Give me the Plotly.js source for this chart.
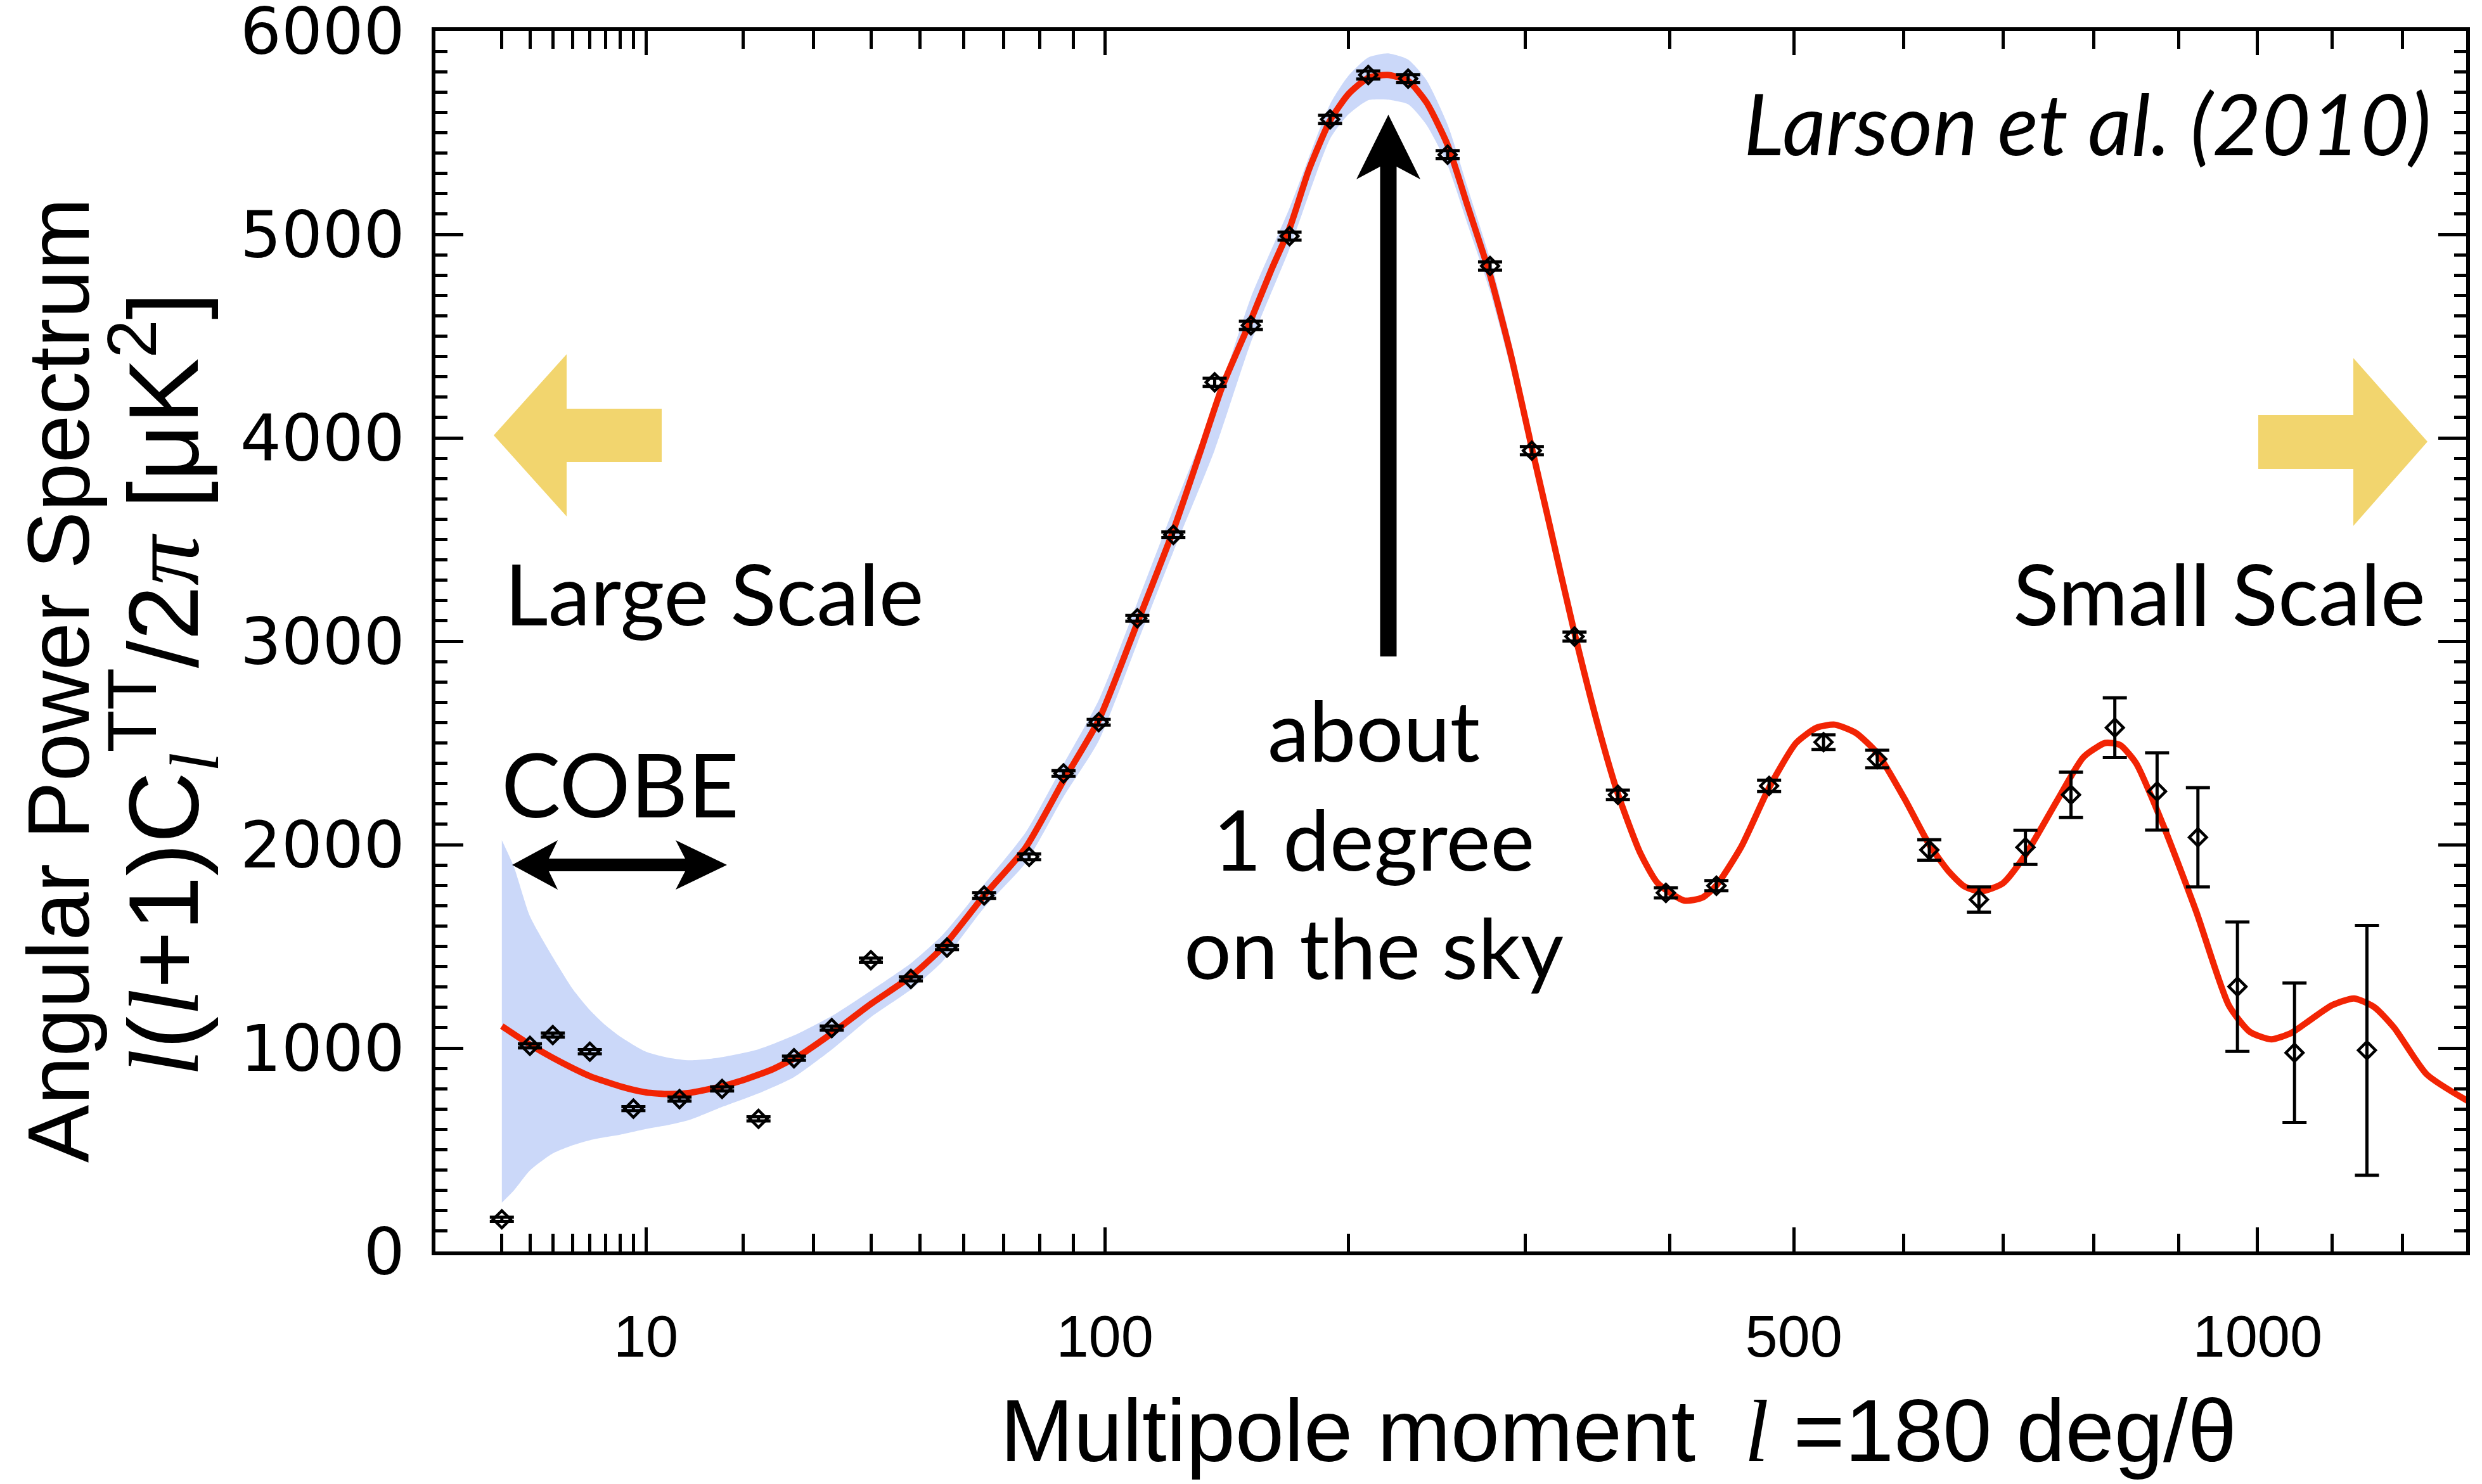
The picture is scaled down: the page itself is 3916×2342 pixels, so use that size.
<!DOCTYPE html>
<html>
<head>
<meta charset="utf-8">
<script src="https://cdn.plot.ly/plotly-3.0.1.min.js"></script>
<style>html,body{margin:0;padding:0;background:#fff}</style>
</head>
<body>
<div id="chart" style="width:3916px;height:2342px"></div>
<script>
// ---------------- data ----------------
// binned measured spectrum: multipole l, D_l = l(l+1)C_l/2pi [uK^2], 1-sigma error
const ell   = [2,3,4,6,9,13,17.5,22,27,33,40,48,56,65,77,87,98,111,124,140,155,172,191,210,231,253,278,304,332,362,397,436,479,526,575,625,675,724,774,824,874,924,974,1049,1149];
const dl    = [158,1011,1064,982,702,749,799,652,950,1098,1432,1340,1494,1750,1940,2350,2602,3113,3523,4273,4553,4992,5566,5784,5766,5392,4845,3937,3023,2245,1763,1798,2289,2504,2421,1974,1730,1987,2245,2575,2262,2036,1302,977,989];
const dlErr = [10,10,10,10,10,10,10,10,10,10,10,10,10,14,14,14,14,14,14,20,20,20,20,20,20,20,20,20,22,23,25,25,28,36,43,50,62,84,112,147,190,244,318,343,614];

// best-fit model curve
const thL = [2,3,4,5,6,8,10,12,14,17,20,24,28,33,40,48,55,65,76,87,98,111,124,134,143,155,164,172,181,191,200,210,220,231,241,253,265,278,291,304,314,332,349,362,378,391,411,425,436,456,479,502,520,536,555,575,601,625,644,660,677,700,724,759,788,813,830,849,881,922,963,990,1018,1045,1071,1100,1131,1160,1188,1236,1300];
const thD = [1108,1017,952,902,862,812,782,774,780,807,842,897,967,1072,1217,1352,1495,1750,1985,2315,2612,3090,3545,3920,4250,4580,4830,5030,5320,5560,5690,5770,5784,5755,5650,5440,5130,4800,4400,3950,3620,3040,2560,2250,1960,1810,1725,1740,1800,1990,2280,2500,2575,2590,2550,2450,2225,2000,1870,1795,1770,1810,1950,2220,2430,2500,2490,2400,2100,1670,1210,1080,1043,1075,1140,1210,1244,1200,1100,870,735];

// cosmic-variance band (upper / lower edges)
const bandL  = [2,2.4,3,4,5,6,7,8,10,12,14,17,22,27,33,40,48,55,65,76,87,98,111,124,140,155,172,191,200,210,220,231,241,253,265,278,291,304,320,340,362];
const bandHi = [2022,1891,1648,1447,1292,1187,1112,1057,982,952,940,952,994,1062,1157,1282,1417,1557,1805,2060,2395,2710,3190,3650,4160,4690,5130,5640,5780,5870,5890,5860,5760,5540,5220,4880,4470,4010,3450,2850,2262];
const bandLo = [240,300,398,482,522,547,562,574,602,622,647,702,777,857,992,1152,1287,1427,1690,1910,2235,2510,2990,3440,3940,4470,4930,5470,5590,5660,5663,5640,5540,5340,5040,4720,4330,3890,3370,2790,2240];

// axis definitions
const xMajor = [10,100,500,1000];
const xMajorText = ['10','100','500','1000'];
const xMinor = [2,3,4,5,6,7,8,9,20,30,40,50,60,70,80,90,200,300,400,600,700,800,900,1100,1200];
const yTicks = [0,1000,2000,3000,4000,5000,6000];
const lRange = [0.52,1295];
const yRange = [0,6000];
const lPow = 0.4;   // horizontal axis is linear in l^0.4

// ---------------- helpers ----------------
const toU = l => Math.pow(l, lPow);
const W = 3916, H = 2342, ML = 687, MR = 25, MT = 49, MB = 367;
const PW = W - ML - MR, PH = H - MT - MB;
const px = x => (x - ML) / PW;
const py = y => (H - MB - y) / PH;
const poly = pts => 'M' + pts.map(p => px(p[0]).toFixed(5) + ',' + py(p[1]).toFixed(5)).join('L') + 'Z';

const traces = [
  {x: bandL.map(toU), y: bandLo, mode: 'lines', line: {width: 0, shape: 'spline', smoothing: 0.6},
   hoverinfo: 'skip', showlegend: false},
  {x: bandL.map(toU), y: bandHi, mode: 'lines', line: {width: 0, shape: 'spline', smoothing: 0.6},
   fill: 'tonexty', fillcolor: '#CBD8F9', hoverinfo: 'skip', showlegend: false},
  {x: thL.map(toU), y: thD, mode: 'lines', line: {color: '#F22404', width: 10, shape: 'spline', smoothing: 0.6},
   showlegend: false},
  {x: ell.map(toU), y: dl, mode: 'markers',
   marker: {symbol: 'diamond-open', size: 21, color: '#000', line: {width: 4.5, color: '#000'}},
   error_y: {type: 'data', array: dlErr, visible: true, color: '#000', thickness: 5, width: 19},
   showlegend: false}
];

const serifL = '<span style="font-family:Liberation Serif"><i>l</i></span>';
const serifPi = '<span style="font-family:Liberation Serif"><i>π</i></span>';
const gill = 'Lato, Open Sans, sans-serif';

const annotations = [
  {text: '<i>Larson et al. (2010)</i>', x: px(3838), y: py(194), xanchor: 'right', yanchor: 'middle',
   font: {family: gill, size: 134, color: '#000'}},
  {text: 'Large Scale', x: px(794), y: py(936), xanchor: 'left', yanchor: 'middle',
   font: {family: gill, size: 134, color: '#000'}},
  {text: 'Small Scale', x: px(3829), y: py(936), xanchor: 'right', yanchor: 'middle',
   font: {family: gill, size: 134, color: '#000'}},
  {text: 'COBE', x: px(789), y: py(1236), xanchor: 'left', yanchor: 'middle',
   font: {family: gill, size: 140, color: '#000'}},
  {text: 'about<br>1 degree<br>on the sky', x: px(2167), y: py(1322), xanchor: 'center', yanchor: 'middle',
   align: 'center', font: {family: gill, size: 132, color: '#000'}},
  {text: 'Angular Power Spectrum', x: px(92), y: py(1074), xanchor: 'center', yanchor: 'middle', textangle: -90,
   font: {family: 'Liberation Sans, Arial, sans-serif', size: 137, color: '#000'}},
  {text: serifL + '(' + serifL + '+1)C<sub>' + serifL + '</sub><sup>TT</sup>/2' + serifPi + ' [μK<sup>2</sup>]',
   x: px(257), y: py(1080), xanchor: 'center', yanchor: 'middle', textangle: -90,
   font: {family: 'Liberation Sans, Arial, sans-serif', size: 156, color: '#000'}},
  {text: 'Multipole moment\u00a0\u00a0' + serifL + ' =180 deg/θ', x: px(2553), y: py(2258),
   xanchor: 'center', yanchor: 'middle',
   font: {family: 'Liberation Sans, Arial, sans-serif', size: 139, color: '#000'}}
].map(a => Object.assign({xref: 'paper', yref: 'paper', showarrow: false}, a));

const shapes = [
  // "about 1 degree" arrow
  {type: 'path', xref: 'paper', yref: 'paper', fillcolor: '#000', line: {width: 0},
   path: poly([[2190.5,181],[2241,283],[2203.5,263],[2203.5,1036],[2177.5,1036],[2177.5,263],[2140,283]])},
  // COBE double arrow
  {type: 'path', xref: 'paper', yref: 'paper', fillcolor: '#000', line: {width: 0},
   path: poly([[808,1365],[880,1326],[866,1355],[1081,1355],[1066,1326],[1147,1365],[1066,1404],[1081,1375],[866,1375],[880,1404]])},
  // yellow arrows
  {type: 'path', xref: 'paper', yref: 'paper', fillcolor: '#F2D56E', line: {width: 0},
   path: poly([[1044,645],[894,645],[894,559],[779,687],[894,815],[894,729],[1044,729]])},
  {type: 'path', xref: 'paper', yref: 'paper', fillcolor: '#F2D56E', line: {width: 0},
   path: poly([[3563,655],[3713,655],[3713,565],[3830,697],[3713,830],[3713,740],[3563,740]])}
];

const layout = {
  width: W, height: H,
  margin: {l: ML, r: MR, t: MT, b: MB, pad: 0},
  paper_bgcolor: '#fff', plot_bgcolor: '#fff',
  showlegend: false,
  xaxis: {
    range: lRange.map(toU), type: 'linear', showgrid: false, zeroline: false,
    showline: true, linecolor: '#000', linewidth: 6, mirror: 'allticks',
    ticks: 'inside', ticklen: 38, tickwidth: 5, tickcolor: '#000',
    tickmode: 'array', tickvals: xMajor.map(toU), ticktext: xMajorText,
    ticklabelstandoff: 50, ticklabeloverflow: 'allow',
    tickfont: {family: 'Liberation Sans Narrow, Liberation Sans, Arial, sans-serif', size: 92, color: '#000'},
    minor: {tickmode: 'array', tickvals: xMinor.map(toU), ticks: 'inside', ticklen: 28, tickwidth: 5, tickcolor: '#000', showgrid: false}
  },
  yaxis: {
    range: yRange, showgrid: false, zeroline: false,
    showline: true, linecolor: '#000', linewidth: 6, mirror: 'allticks',
    ticks: 'inside', ticklen: 44, tickwidth: 5, tickcolor: '#000',
    tickmode: 'array', tickvals: yTicks, ticktext: yTicks.map(String),
    ticklabelstandoff: 22, ticklabeloverflow: 'allow',
    tickfont: {family: 'DejaVu Sans, sans-serif', size: 102, color: '#000'},
    minor: {dtick: 100, ticks: 'inside', ticklen: 19, tickwidth: 5, tickcolor: '#000', showgrid: false}
  },
  annotations: annotations,
  shapes: shapes
};

Plotly.newPlot('chart', traces, layout, {displayModeBar: false, staticPlot: true});
</script>
</body>
</html>
